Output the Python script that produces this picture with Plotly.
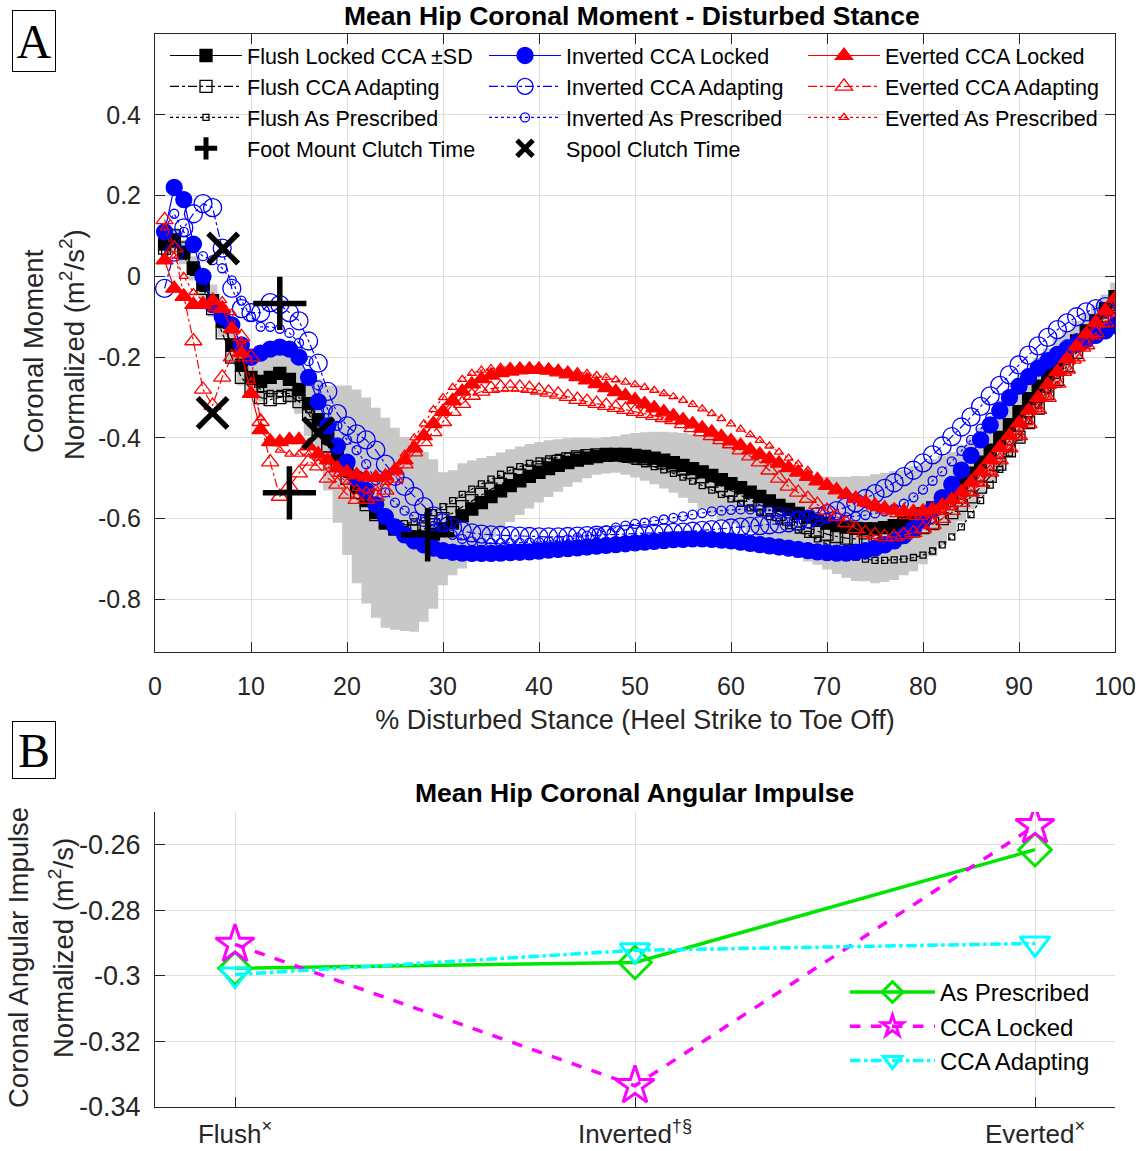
import plotly.graph_objects as go

# ---------------- DATA (panel A) ----------------
pct = list(range(1, 101))

flush_locked = [0.08, 0.09, 0.06, 0.02, -0.02, -0.06, -0.11, -0.17, -0.22, -0.25,
 -0.26, -0.25, -0.24, -0.255, -0.28, -0.315, -0.355, -0.40, -0.44, -0.48,
 -0.52, -0.555, -0.585, -0.61, -0.625, -0.638, -0.645, -0.645, -0.638, -0.625,
 -0.61, -0.593, -0.576, -0.56, -0.545, -0.531, -0.518, -0.506, -0.495, -0.485,
 -0.476, -0.468, -0.461, -0.455, -0.45, -0.446, -0.443, -0.441, -0.441, -0.443,
 -0.446, -0.45, -0.455, -0.461, -0.468, -0.476, -0.484, -0.493, -0.503, -0.513,
 -0.523, -0.534, -0.545, -0.556, -0.567, -0.577, -0.587, -0.596, -0.604, -0.611,
 -0.617, -0.621, -0.624, -0.625, -0.625, -0.622, -0.617, -0.61, -0.6, -0.588,
 -0.573, -0.555, -0.535, -0.512, -0.487, -0.46, -0.43, -0.399, -0.367, -0.335,
 -0.303, -0.272, -0.243, -0.215, -0.189, -0.16, -0.135, -0.11, -0.08, -0.05]

flush_locked_sd = [0.03, 0.03, 0.03, 0.03, 0.035, 0.04, 0.04, 0.045, 0.05, 0.05,
 0.05, 0.05, 0.05, 0.055, 0.06, 0.08, 0.1, 0.13, 0.17, 0.21,
 0.24, 0.255, 0.26, 0.26, 0.25, 0.24, 0.235, 0.21, 0.185, 0.14,
 0.13, 0.13, 0.12, 0.11, 0.1, 0.095, 0.09, 0.085, 0.08, 0.075,
 0.07, 0.065, 0.06, 0.055, 0.05, 0.045, 0.045, 0.045, 0.05, 0.055,
 0.06, 0.065, 0.07, 0.075, 0.08, 0.085, 0.09, 0.095, 0.1, 0.1,
 0.1, 0.1, 0.1, 0.105, 0.105, 0.105, 0.11, 0.11, 0.11, 0.115,
 0.12, 0.125, 0.13, 0.13, 0.135, 0.135, 0.135, 0.13, 0.13, 0.125,
 0.12, 0.11, 0.1, 0.095, 0.09, 0.085, 0.08, 0.08, 0.08, 0.08,
 0.075, 0.07, 0.065, 0.06, 0.055, 0.05, 0.045, 0.04, 0.035, 0.035]

flush_adapting = [0.07, 0.1, 0.07, 0.02, -0.03, -0.08, -0.14, -0.2, -0.25, -0.28,
 -0.3, -0.305, -0.3, -0.295, -0.31, -0.34, -0.38, -0.42, -0.46, -0.5,
 -0.535, -0.565, -0.59, -0.61, -0.625, -0.63, -0.63, -0.625, -0.615, -0.6,
 -0.585, -0.57, -0.555, -0.54, -0.527, -0.515, -0.503, -0.492, -0.482, -0.473,
 -0.465, -0.458, -0.452, -0.447, -0.444, -0.442, -0.441, -0.442, -0.444, -0.447,
 -0.451, -0.456, -0.462, -0.469, -0.477, -0.486, -0.496, -0.507, -0.518, -0.53,
 -0.542, -0.554, -0.566, -0.578, -0.59, -0.601, -0.612, -0.622, -0.631, -0.638,
 -0.644, -0.648, -0.65, -0.65, -0.648, -0.645, -0.641, -0.636, -0.63, -0.622,
 -0.612, -0.6, -0.585, -0.567, -0.546, -0.522, -0.495, -0.465, -0.432, -0.398,
 -0.362, -0.326, -0.29, -0.255, -0.221, -0.188, -0.157, -0.127, -0.098, -0.07]

flush_prescribed = [0.06, 0.08, 0.05, 0.01, -0.03, -0.07, -0.12, -0.17, -0.22, -0.26,
 -0.28, -0.29, -0.29, -0.29, -0.3, -0.33, -0.37, -0.41, -0.45, -0.49,
 -0.53, -0.56, -0.585, -0.6, -0.61, -0.612, -0.608, -0.598, -0.585, -0.57,
 -0.555, -0.54, -0.527, -0.514, -0.502, -0.49, -0.48, -0.471, -0.463, -0.457,
 -0.452, -0.448, -0.445, -0.443, -0.443, -0.444, -0.446, -0.449, -0.453, -0.458,
 -0.464, -0.471, -0.479, -0.488, -0.497, -0.507, -0.518, -0.529, -0.54, -0.551,
 -0.562, -0.573, -0.584, -0.595, -0.606, -0.617, -0.628, -0.639, -0.65, -0.662,
 -0.674, -0.686, -0.695, -0.7, -0.703, -0.703, -0.702, -0.7, -0.696, -0.69,
 -0.68, -0.665, -0.645, -0.62, -0.59, -0.555, -0.517, -0.478, -0.438, -0.398,
 -0.358, -0.319, -0.281, -0.245, -0.211, -0.179, -0.149, -0.121, -0.095, -0.07]

inverted_locked = [0.11, 0.22, 0.19, 0.08, 0.0, -0.07, -0.1, -0.12, -0.17, -0.2,
 -0.19, -0.18, -0.175, -0.18, -0.2, -0.25, -0.31, -0.37, -0.42, -0.46,
 -0.5, -0.53, -0.565, -0.595, -0.62, -0.64, -0.655, -0.665, -0.673, -0.679,
 -0.683, -0.685, -0.686, -0.686, -0.686, -0.685, -0.684, -0.683, -0.682, -0.68,
 -0.678, -0.676, -0.674, -0.672, -0.67, -0.668, -0.666, -0.664, -0.662, -0.66,
 -0.658, -0.656, -0.654, -0.652, -0.651, -0.65, -0.65, -0.651, -0.653, -0.655,
 -0.658, -0.661, -0.664, -0.667, -0.67, -0.673, -0.676, -0.679, -0.682, -0.684,
 -0.685, -0.685, -0.683, -0.679, -0.673, -0.665, -0.655, -0.642, -0.625, -0.603,
 -0.577, -0.548, -0.515, -0.48, -0.443, -0.405, -0.368, -0.333, -0.3, -0.272,
 -0.248, -0.227, -0.209, -0.193, -0.179, -0.167, -0.156, -0.146, -0.135, -0.122]

inverted_adapting = [-0.03, 0.06, 0.12, 0.155, 0.18, 0.17, 0.07, -0.03, -0.08, -0.09,
 -0.09, -0.065, -0.07, -0.09, -0.11, -0.16, -0.215, -0.285, -0.34, -0.37,
 -0.39, -0.405, -0.43, -0.465, -0.495, -0.52, -0.545, -0.57, -0.593, -0.61,
 -0.622, -0.63, -0.635, -0.638, -0.64, -0.641, -0.642, -0.643, -0.644, -0.645,
 -0.645, -0.645, -0.644, -0.643, -0.642, -0.641, -0.64, -0.64, -0.639, -0.638,
 -0.637, -0.636, -0.635, -0.634, -0.633, -0.631, -0.629, -0.627, -0.625, -0.623,
 -0.621, -0.619, -0.617, -0.615, -0.613, -0.61, -0.606, -0.601, -0.595, -0.588,
 -0.58, -0.571, -0.561, -0.55, -0.538, -0.525, -0.511, -0.496, -0.48, -0.462,
 -0.442, -0.42, -0.397, -0.373, -0.348, -0.322, -0.296, -0.27, -0.244, -0.219,
 -0.195, -0.172, -0.151, -0.132, -0.115, -0.1, -0.088, -0.08, -0.075, -0.073]

inverted_prescribed = [0.12, 0.155, 0.11, 0.07, 0.05, 0.04, 0.02, -0.01, -0.06, -0.1,
 -0.125, -0.125, -0.13, -0.14, -0.165, -0.21, -0.27, -0.33, -0.37, -0.405,
 -0.43, -0.465, -0.505, -0.535, -0.56, -0.58, -0.595, -0.608, -0.618, -0.627,
 -0.64, -0.65, -0.656, -0.659, -0.66, -0.66, -0.66, -0.66, -0.659, -0.658,
 -0.656, -0.654, -0.651, -0.647, -0.642, -0.636, -0.629, -0.622, -0.617, -0.613,
 -0.61, -0.606, -0.602, -0.598, -0.594, -0.59, -0.586, -0.582, -0.58, -0.578,
 -0.577, -0.577, -0.578, -0.58, -0.583, -0.587, -0.591, -0.594, -0.596, -0.597,
 -0.597, -0.596, -0.594, -0.591, -0.587, -0.582, -0.575, -0.563, -0.547, -0.528,
 -0.506, -0.483, -0.458, -0.432, -0.405, -0.377, -0.35, -0.322, -0.295, -0.27,
 -0.246, -0.223, -0.203, -0.185, -0.168, -0.153, -0.139, -0.126, -0.113, -0.1]

everted_locked = [0.04, -0.03, -0.05, -0.07, -0.07, -0.06, -0.08, -0.13, -0.19, -0.29,
 -0.38, -0.41, -0.41, -0.405, -0.405, -0.42, -0.44, -0.455, -0.475, -0.485,
 -0.492, -0.497, -0.498, -0.495, -0.48, -0.455, -0.425, -0.395, -0.365, -0.335,
 -0.308, -0.285, -0.267, -0.254, -0.245, -0.239, -0.235, -0.232, -0.231, -0.231,
 -0.233, -0.237, -0.242, -0.249, -0.257, -0.266, -0.276, -0.286, -0.296, -0.306,
 -0.316, -0.326, -0.336, -0.346, -0.356, -0.366, -0.376, -0.386, -0.397, -0.408,
 -0.419, -0.43, -0.441, -0.452, -0.463, -0.474, -0.485, -0.496, -0.507, -0.518,
 -0.529, -0.54, -0.55, -0.559, -0.567, -0.574, -0.579, -0.582, -0.583, -0.582,
 -0.577, -0.567, -0.553, -0.534, -0.51, -0.483, -0.454, -0.424, -0.394, -0.363,
 -0.332, -0.3, -0.268, -0.236, -0.204, -0.173, -0.143, -0.114, -0.085, -0.055]

everted_adapting = [0.14, 0.07, -0.05, -0.16, -0.28, -0.32, -0.25, -0.2, -0.15, -0.2,
 -0.36, -0.46, -0.545, -0.52, -0.487, -0.458, -0.47, -0.5, -0.515, -0.54,
 -0.553, -0.553, -0.545, -0.53, -0.5, -0.465, -0.435, -0.41, -0.385, -0.36,
 -0.335, -0.315, -0.295, -0.285, -0.278, -0.275, -0.274, -0.275, -0.278, -0.282,
 -0.287, -0.292, -0.298, -0.305, -0.31, -0.315, -0.32, -0.325, -0.33, -0.335,
 -0.34, -0.345, -0.35, -0.355, -0.365, -0.375, -0.385, -0.395, -0.405, -0.415,
 -0.43, -0.445, -0.46, -0.48, -0.5, -0.52, -0.535, -0.55, -0.565, -0.58,
 -0.595, -0.61, -0.625, -0.635, -0.64, -0.645, -0.645, -0.64, -0.635, -0.625,
 -0.615, -0.6, -0.58, -0.56, -0.535, -0.51, -0.485, -0.455, -0.425, -0.395,
 -0.365, -0.33, -0.3, -0.265, -0.23, -0.2, -0.17, -0.14, -0.115, -0.09]

everted_prescribed = [0.12, 0.05, 0.0, -0.04, -0.06, -0.08, -0.06, -0.09, -0.16, -0.26,
 -0.35, -0.4, -0.43, -0.44, -0.44, -0.44, -0.45, -0.47, -0.49, -0.51,
 -0.525, -0.53, -0.525, -0.51, -0.48, -0.44, -0.4, -0.365, -0.33, -0.3,
 -0.275, -0.255, -0.24, -0.232, -0.228, -0.225, -0.223, -0.222, -0.222, -0.223,
 -0.225, -0.228, -0.232, -0.236, -0.24, -0.245, -0.25, -0.256, -0.262, -0.268,
 -0.275, -0.282, -0.29, -0.298, -0.307, -0.317, -0.328, -0.34, -0.352, -0.365,
 -0.378, -0.392, -0.406, -0.42, -0.435, -0.45, -0.465, -0.48, -0.495, -0.51,
 -0.525, -0.54, -0.553, -0.565, -0.575, -0.583, -0.59, -0.595, -0.597, -0.597,
 -0.593, -0.585, -0.573, -0.557, -0.537, -0.513, -0.485, -0.455, -0.425, -0.395,
 -0.362, -0.33, -0.3, -0.27, -0.24, -0.21, -0.18, -0.15, -0.12, -0.09]

foot_clutch_x = [13, 14, 28.4]
foot_clutch_y = [-0.067, -0.536, -0.64]
spool_clutch_x = [7.1, 6, 17]
spool_clutch_y = [0.069, -0.338, -0.388]

a_xticks = [0, 10, 20, 30, 40, 50, 60, 70, 80, 90, 100]
a_yticks = [-0.8, -0.6, -0.4, -0.2, 0, 0.2, 0.4]
a_yticklabels = ["-0.8", "-0.6", "-0.4", "-0.2", "0", "0.2", "0.4"]

# ---------------- DATA (panel B) ----------------
b_positions = [1, 2, 3]
b_ticklabels = ["Flush<sup>×</sup>", "Inverted<sup>†§</sup>", "Everted<sup>×</sup>"]
b_as_prescribed = [-0.2977, -0.2959, -0.2615]
b_cca_locked = [-0.2904, -0.3335, -0.2542]
b_cca_adapting = [-0.2996, -0.2922, -0.2901]
b_yticks = [-0.34, -0.32, -0.30, -0.28, -0.26]
b_yticklabels = ["-0.34", "-0.32", "-0.3", "-0.28", "-0.26"]

# ---------------- FIGURE ----------------
W, H = 1140, 1151
FONT = "Liberation Sans, Arial, sans-serif"
TXT = "#262626"
GRID = "#DEDEDE"

def px_x(p):
    return p / W

def px_y(p):
    return 1 - p / H

fig = go.Figure()

# SD band (stairs) around Flush Locked
band_upper = [m + s for m, s in zip(flush_locked, flush_locked_sd)]
band_lower = [m - s for m, s in zip(flush_locked, flush_locked_sd)]
fig.add_trace(go.Scatter(x=pct, y=band_upper, mode="lines", line=dict(width=0, shape="hvh", color="#C8C8C8"),
                         showlegend=False, hoverinfo="skip", xaxis="x", yaxis="y"))
fig.add_trace(go.Scatter(x=pct, y=band_lower, mode="lines", line=dict(width=0, shape="hvh", color="#C8C8C8"),
                         fill="tonexty", fillcolor="#C8C8C8", showlegend=False, hoverinfo="skip",
                         xaxis="x", yaxis="y"))

series = [
    # name, data, color, dash, symbol, size, rank
    ("Flush Locked CCA ±SD", flush_locked, "black", "solid", "square", 12, 1),
    ("Flush CCA Adapting", flush_adapting, "black", "dashdot", "square-open", 12, 4),
    ("Flush As Prescribed", flush_prescribed, "black", "dot", "square-open", 6, 7),
    ("Inverted CCA Locked", inverted_locked, "#0000FF", "solid", "circle", 16, 2),
    ("Inverted CCA Adapting", inverted_adapting, "#0000FF", "dashdot", "circle-open", 18, 5),
    ("Inverted As Prescribed", inverted_prescribed, "#0000FF", "dot", "circle-open", 9, 8),
    ("Everted CCA Locked", everted_locked, "#FF0000", "solid", "triangle-up", 15, 3),
    ("Everted CCA Adapting", everted_adapting, "#FF0000", "dashdot", "triangle-up-open", 15, 6),
    ("Everted As Prescribed", everted_prescribed, "#FF0000", "dot", "triangle-up-open", 8, 9),
]
for name, data, color, dash, symbol, size, rank in series:
    fig.add_trace(go.Scatter(
        x=pct, y=data, name=name, mode="lines+markers",
        line=dict(color=color, width=1.2, dash=dash),
        marker=dict(symbol=symbol, size=size, color=color, line=dict(color=color, width=1.3)),
        legendrank=rank, legend="legend", xaxis="x", yaxis="y"))

fig.add_trace(go.Scatter(
    x=foot_clutch_x, y=foot_clutch_y, name="Foot Mount Clutch Time", mode="markers",
    marker=dict(symbol="cross-thin", size=38, color="black", line=dict(color="black", width=5.5)),
    legendrank=10, legend="legend", xaxis="x", yaxis="y"))
fig.add_trace(go.Scatter(
    x=spool_clutch_x, y=spool_clutch_y, name="Spool Clutch Time", mode="markers",
    marker=dict(symbol="x-thin", size=30, color="black", line=dict(color="black", width=5.5)),
    legendrank=11, legend="legend", xaxis="x", yaxis="y"))

# Panel B
fig.add_trace(go.Scatter(
    x=b_positions, y=b_as_prescribed, name="As Prescribed", mode="lines+markers",
    line=dict(color="#00E600", width=3.5, dash="solid"),
    marker=dict(symbol="diamond-open", size=25, color="#00E600", line=dict(color="#00E600", width=3)),
    legend="legend2", xaxis="x2", yaxis="y2"))
fig.add_trace(go.Scatter(
    x=b_positions, y=b_cca_locked, name="CCA Locked", mode="lines+markers",
    line=dict(color="#FF00FF", width=3.5, dash="dash"),
    marker=dict(symbol="star-open", size=29, color="#FF00FF", line=dict(color="#FF00FF", width=3)),
    legend="legend2", xaxis="x2", yaxis="y2"))
fig.add_trace(go.Scatter(
    x=b_positions, y=b_cca_adapting, name="CCA Adapting", mode="lines+markers",
    line=dict(color="#00FFFF", width=3.5, dash="dashdot"),
    marker=dict(symbol="triangle-down-open", size=26, color="#00FFFF", line=dict(color="#00FFFF", width=3)),
    legend="legend2", xaxis="x2", yaxis="y2"))

xdom = [px_x(155), px_x(1115)]
axis_common = dict(showline=True, linecolor=TXT, linewidth=1, ticks="inside", ticklen=10,
                   tickcolor=TXT, showgrid=True, gridcolor=GRID, gridwidth=1, zeroline=False,
                   automargin=False)

fig.update_layout(
    width=W, height=H, autosize=False,
    margin=dict(l=0, r=0, t=0, b=0, pad=0, autoexpand=False),
    paper_bgcolor="white", plot_bgcolor="white",
    font=dict(family=FONT, color=TXT),
    xaxis=dict(domain=xdom, anchor="y", range=[0, 100], tickmode="array", tickvals=a_xticks,
               mirror="ticks", ticklabelstandoff=12, tickfont=dict(family=FONT, size=25, color=TXT),
               title=dict(text="% Disturbed Stance (Heel Strike to Toe Off)",
                          font=dict(family=FONT, size=27, color=TXT), standoff=11),
               **axis_common),
    yaxis=dict(domain=[px_y(652), px_y(34)], anchor="x", range=[-0.93, 0.6], tickmode="array",
               tickvals=a_yticks, ticktext=a_yticklabels, mirror="ticks", ticklabelstandoff=8,
               tickfont=dict(family=FONT, size=25, color=TXT), **axis_common),
    xaxis2=dict(domain=xdom, anchor="y2", range=[0.8, 3.2], tickmode="array", tickvals=b_positions,
                ticktext=b_ticklabels, ticklabelstandoff=4,
                tickfont=dict(family=FONT, size=26, color=TXT), **axis_common),
    yaxis2=dict(domain=[px_y(1107), px_y(812)], anchor="x2", range=[-0.34, -0.25], tickmode="array",
                tickvals=b_yticks, ticktext=b_yticklabels, ticklabelstandoff=8,
                tickfont=dict(family=FONT, size=27, color=TXT), **axis_common),
    legend=dict(orientation="h", x=px_x(165), y=px_y(35), xanchor="left", yanchor="top",
                bgcolor="rgba(255,255,255,0)", borderwidth=0, itemwidth=72, entrywidth=232,
                entrywidthmode="pixels", traceorder="normal",
                font=dict(family=FONT, size=21.5, color="black"), itemsizing="trace"),
    legend2=dict(orientation="v", x=px_x(845), y=px_y(970), xanchor="left", yanchor="top",
                 bgcolor="rgba(255,255,255,0)", borderwidth=0, itemwidth=85,
                 font=dict(family=FONT, size=24, color="black")),
    showlegend=True,
)

# white panels behind the legends (hide gridlines, keep axis ticks)
fig.add_shape(type="rect", xref="paper", yref="paper",
              x0=px_x(156), x1=px_x(1114), y0=px_y(158), y1=px_y(45),
              fillcolor="white", line=dict(width=0), layer="between")
fig.add_shape(type="rect", xref="paper", yref="paper",
              x0=px_x(843), x1=px_x(1093), y0=px_y(1080), y1=px_y(978),
              fillcolor="white", line=dict(width=0), layer="between")

annotations = [
    dict(text="<b>Mean Hip Coronal Moment - Disturbed Stance</b>", x=px_x(632), y=px_y(16),
         font=dict(family=FONT, size=26.5, color="black")),
    dict(text="<b>Mean Hip Coronal Angular Impulse</b>", x=px_x(634), y=px_y(793),
         font=dict(family=FONT, size=26.5, color="black")),
    dict(text="Coronal Moment", x=px_x(33), y=px_y(351), textangle=-90,
         font=dict(family=FONT, size=27.5, color=TXT)),
    dict(text="Normalized (m<sup>2</sup>/s<sup>2</sup>)", x=px_x(72), y=px_y(345), textangle=-90,
         font=dict(family=FONT, size=27.5, color=TXT)),
    dict(text="Coronal Angular Impulse", x=px_x(18), y=px_y(958), textangle=-90,
         font=dict(family=FONT, size=27.5, color=TXT)),
    dict(text="Normalized (m<sup>2</sup>/s)", x=px_x(61), y=px_y(948), textangle=-90,
         font=dict(family=FONT, size=27.5, color=TXT)),
    dict(text="A", x=px_x(33.5), y=px_y(41), bordercolor="black", borderwidth=1, borderpad=2,
         width=38, height=56, bgcolor="white",
         font=dict(family="Liberation Serif, Times New Roman, serif", size=48, color="black")),
    dict(text="B", x=px_x(33.5), y=px_y(750), bordercolor="black", borderwidth=1, borderpad=2,
         width=38, height=52, bgcolor="white",
         font=dict(family="Liberation Serif, Times New Roman, serif", size=48, color="black")),
]
for a in annotations:
    a.update(xref="paper", yref="paper", showarrow=False, xanchor="center", yanchor="middle")
fig.update_layout(annotations=annotations)

fig.write_html("out.html")
